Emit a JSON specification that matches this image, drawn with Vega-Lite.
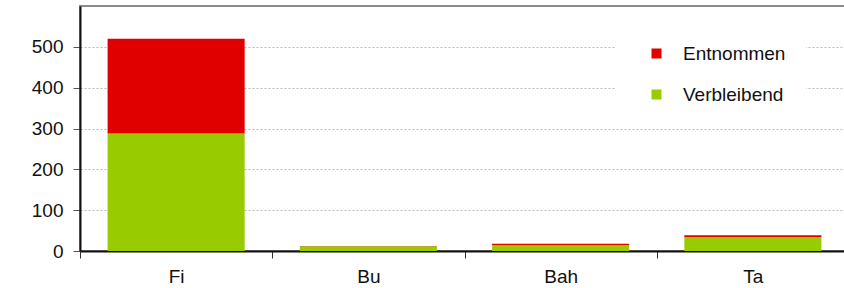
{
  "$schema": "https://vega.github.io/schema/vega-lite/v6.json",
  "autosize": "none",
  "padding": {"left": 80, "top": 6, "right": 0, "bottom": 37},
  "width": 769,
  "height": 245,
  "background": "white",
  "config": {
    "font": "Liberation Sans",
    "view": {"stroke": "#8a8a8a", "strokeWidth": 2}
  },
  "data": {
    "values": [
      {"Art": "Fi", "Typ": "Verbleibend", "Anzahl": 288},
      {"Art": "Fi", "Typ": "Entnommen", "Anzahl": 232},
      {"Art": "Bu", "Typ": "Verbleibend", "Anzahl": 11.5},
      {"Art": "Bu", "Typ": "Entnommen", "Anzahl": 0.5},
      {"Art": "Bah", "Typ": "Verbleibend", "Anzahl": 14.5},
      {"Art": "Bah", "Typ": "Entnommen", "Anzahl": 3.5},
      {"Art": "Ta", "Typ": "Verbleibend", "Anzahl": 34.5},
      {"Art": "Ta", "Typ": "Entnommen", "Anzahl": 4}
    ]
  },
  "mark": {"type": "bar", "width": {"band": 0.713}},
  "encoding": {
    "x": {
      "field": "Art",
      "type": "nominal",
      "sort": ["Fi", "Bu", "Bah", "Ta"],
      "scale": {"paddingInner": 0, "paddingOuter": 0},
      "axis": {
        "title": null,
        "labelAngle": 0,
        "labelFontSize": 19,
        "labelColor": "#111",
        "labelPadding": 9,
        "tickBand": "extent",
        "tickSize": 7,
        "tickColor": "#333",
        "domainColor": "#111",
        "domainWidth": 2,
        "grid": false
      }
    },
    "y": {
      "field": "Anzahl",
      "type": "quantitative",
      "stack": "zero",
      "scale": {"domain": [0, 600], "nice": false},
      "axis": {
        "title": null,
        "values": [0, 100, 200, 300, 400, 500],
        "labelFontSize": 19,
        "labelColor": "#111",
        "labelPadding": 10,
        "tickSize": 7,
        "tickColor": "#555",
        "domainColor": "#111",
        "domainWidth": 2,
        "gridColor": "#b8b8b8",
        "gridDash": [2, 2],
        "gridWidth": 1
      }
    },
    "color": {
      "field": "Typ",
      "type": "nominal",
      "scale": {"domain": ["Entnommen", "Verbleibend"], "range": ["#e00000", "#99cc00"]},
      "legend": {
        "title": null,
        "orient": "none",
        "legendX": 535,
        "legendY": 18,
        "fillColor": "white",
        "padding": 20,
        "symbolType": "square",
        "symbolSize": 100,
        "symbolStrokeWidth": 0,
        "symbolOffset": 12,
        "labelOffset": 17,
        "labelFontSize": 19,
        "labelColor": "#111",
        "rowPadding": 21
      }
    },
    "order": {"field": "Typ", "sort": "descending"}
  }
}
